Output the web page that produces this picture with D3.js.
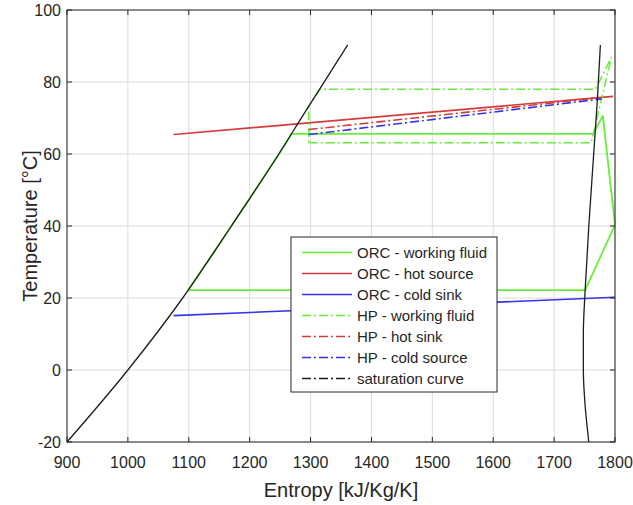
<!DOCTYPE html>
<html>
<head>
<meta charset="utf-8">
<script src="https://cdn.jsdelivr.net/npm/d3@7"></script>
<style>
  html, body { margin: 0; padding: 0; background: #fff; }
  svg { display: block; font-family: "Liberation Sans", Arial, Helvetica, sans-serif; }
</style>
</head>
<body>
<svg id="chart" width="633" height="505"></svg>
<script>
// Axis ticks
const xTicks = [900, 1000, 1100, 1200, 1300, 1400, 1500, 1600, 1700, 1800];
const yTicks = [-20, 0, 20, 40, 60, 80, 100];

// Saturation dome: liquid branch and vapour branch (entropy, temperature)
const satLiquidS = [900, 1000, 1090, 1170, 1248, 1293, 1315, 1361];
const satLiquidT = [-20, 0, 20, 40, 60, 72.2, 78, 90.3];
const satVapourS = [1757, 1751, 1748, 1748, 1751, 1757, 1765, 1771, 1776];
const satVapourT = [-20, -10, 0, 10, 22.2, 40, 60, 75, 90.3];

// ORC working fluid cycle
const orcFluidS = [1099, 1170, 1248, 1269, 1764, 1780, 1800, 1751, 1099];
const orcFluidT = [22.2, 40, 60, 65.6, 65.6, 70.6, 40.3, 22.2, 22.2];

// ORC hot source and cold sink
const orcHotS = [1075, 1797];
const orcHotT = [65.4, 76.0];
const orcColdS = [1075, 1800];
const orcColdT = [15.1, 20.2];

// Heat pump working fluid cycle
const hpFluidS = [1297, 1761, 1794, 1768, 1315, 1293, 1297, 1297];
const hpFluidT = [63.1, 63.1, 86.8, 78.0, 78.0, 72.2, 73.0, 63.1];

// Heat pump hot sink and cold source
const hpHotS = [1297, 1778];
const hpHotT = [66.8, 75.7];
const hpColdS = [1297, 1778];
const hpColdT = [65.4, 75.3];

const legendLabels = [
  "ORC - working fluid",
  "ORC - hot source",
  "ORC - cold sink",
  "HP - working fluid",
  "HP - hot sink",
  "HP - cold source",
  "saturation curve"
];

const GREEN = "#66ee3a", RED = "#d43c3c", BLUE = "#3434f0", BLACK = "#1e1e1e";
const DASHDOT = "9,3,2,3";

const svg = d3.select("#chart");
const margin = { left: 67, right: 18, top: 10, bottom: 63 };
const W = 633, H = 505;
const x = d3.scaleLinear().domain([900, 1800]).range([margin.left, W - margin.right]);
const y = d3.scaleLinear().domain([-20, 100]).range([H - margin.bottom, margin.top]);
const x0 = x.range()[0], x1 = x.range()[1], y0 = y.range()[0], y1 = y.range()[1];

// Grid
const grid = svg.append("g").attr("stroke", "#dcdcdc").attr("stroke-width", 1);
xTicks.forEach(v => grid.append("line")
  .attr("x1", x(v)).attr("x2", x(v)).attr("y1", y1).attr("y2", y0));
yTicks.forEach(v => grid.append("line")
  .attr("y1", y(v)).attr("y2", y(v)).attr("x1", x0).attr("x2", x1));

const zip = (s, t) => s.map((v, i) => [v, t[i]]);
const line = d3.line().x(d => x(d[0])).y(d => y(d[1]));

const plot = svg.append("g");
function draw(s, t, color, dash, width, curve) {
  const gen = curve ? d3.line().x(d => x(d[0])).y(d => y(d[1])).curve(curve) : line;
  plot.append("path")
    .attr("d", gen(zip(s, t)))
    .attr("fill", "none")
    .attr("stroke", color)
    .attr("stroke-width", width)
    .attr("stroke-linejoin", "round")
    .attr("stroke-dasharray", dash || null);
}

draw(orcFluidS, orcFluidT, GREEN, null, 1.8);
draw(orcHotS, orcHotT, RED, null, 1.6);
draw(orcColdS, orcColdT, BLUE, null, 1.6);
draw(hpFluidS, hpFluidT, GREEN, DASHDOT, 1.5);
draw(hpHotS, hpHotT, RED, DASHDOT, 1.6);
draw(hpColdS, hpColdT, BLUE, DASHDOT, 1.6);
draw(satLiquidS, satLiquidT, BLACK, null, 1.3, d3.curveMonotoneX);
draw(satVapourS, satVapourT, BLACK, null, 1.3, d3.curveMonotoneY);

// Axes box with inward ticks on all four sides
const axisColor = "#262626";
const axes = svg.append("g").attr("stroke", axisColor).attr("stroke-width", 1);
axes.append("rect").attr("x", x0).attr("y", y1).attr("width", x1 - x0).attr("height", y0 - y1)
  .attr("fill", "none");
const tl = 5;
xTicks.forEach(v => {
  axes.append("line").attr("x1", x(v)).attr("x2", x(v)).attr("y1", y0).attr("y2", y0 - tl);
  axes.append("line").attr("x1", x(v)).attr("x2", x(v)).attr("y1", y1).attr("y2", y1 + tl);
});
yTicks.forEach(v => {
  axes.append("line").attr("y1", y(v)).attr("y2", y(v)).attr("x1", x0).attr("x2", x0 + tl);
  axes.append("line").attr("y1", y(v)).attr("y2", y(v)).attr("x1", x1).attr("x2", x1 - tl);
});

// Tick labels
const labels = svg.append("g").attr("fill", axisColor).attr("font-size", 16);
xTicks.forEach(v => labels.append("text")
  .attr("x", x(v)).attr("y", y0 + 26).attr("text-anchor", "middle").text(v));
yTicks.forEach(v => labels.append("text")
  .attr("x", x0 - 6).attr("y", y(v)).attr("dy", "0.35em").attr("text-anchor", "end").text(v));

// Axis titles
svg.append("text").attr("x", (x0 + x1) / 2).attr("y", 497)
  .attr("text-anchor", "middle").attr("font-size", 20).attr("fill", axisColor)
  .text("Entropy [kJ/Kg/K]");
svg.append("text").attr("transform", `translate(30,${(y0 + y1) / 2}) rotate(-90)`)
  .attr("dy", "0.35em")
  .attr("text-anchor", "middle").attr("font-size", 20).attr("fill", axisColor)
  .text("Temperature [°C]");

// Legend
const legendStyles = [
  [GREEN, null], [RED, null], [BLUE, null],
  [GREEN, DASHDOT], [RED, DASHDOT], [BLUE, DASHDOT], [BLACK, DASHDOT]
];
const lg = svg.append("g").attr("transform", "translate(291,237)");
lg.append("rect").attr("width", 206).attr("height", 155)
  .attr("fill", "#fff").attr("stroke", axisColor).attr("stroke-width", 1);
legendLabels.forEach((lab, i) => {
  const ry = 15.5 + i * 21;
  lg.append("line").attr("x1", 11).attr("x2", 61).attr("y1", ry).attr("y2", ry)
    .attr("stroke", legendStyles[i][0]).attr("stroke-width", 1.5)
    .attr("stroke-dasharray", legendStyles[i][1]);
  lg.append("text").attr("x", 66).attr("y", ry).attr("dy", "0.35em")
    .attr("font-size", 15).attr("fill", axisColor).text(lab);
});
</script>
</body>
</html>
